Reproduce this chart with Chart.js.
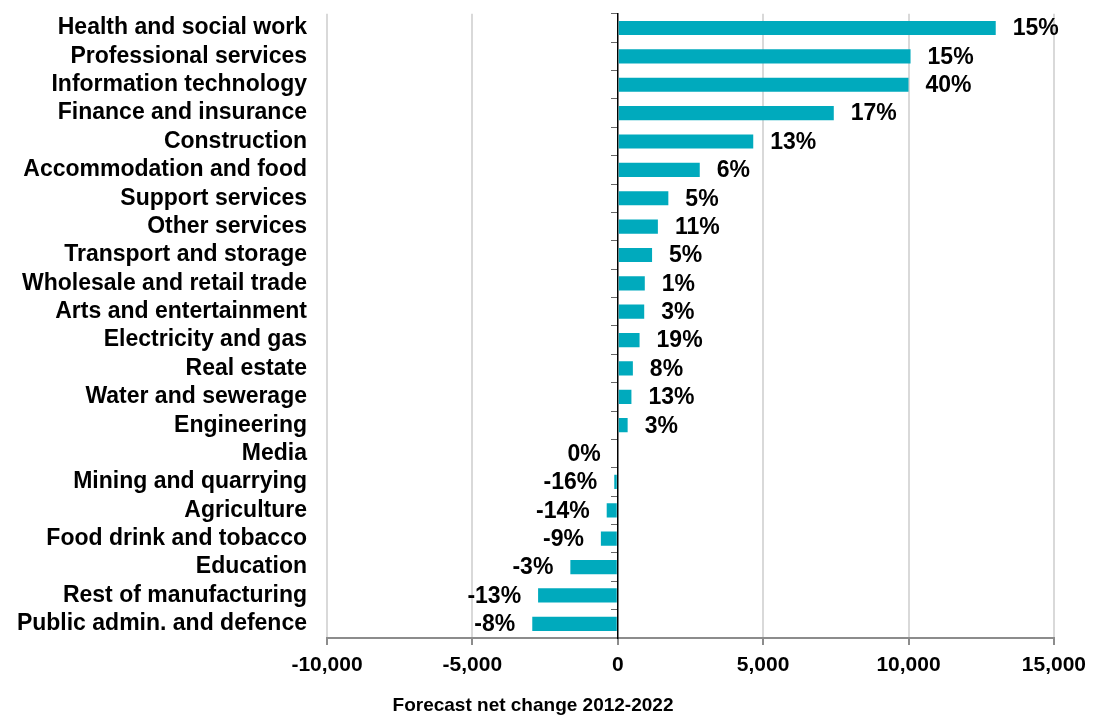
<!DOCTYPE html>
<html>
<head>
<meta charset="utf-8">
<title>Forecast net change 2012-2022</title>
<script src="https://cdn.jsdelivr.net/npm/chart.js@4/dist/chart.umd.min.js"></script>
<style>
  html, body { margin: 0; padding: 0; background: #fff; }
  #myChart { display: block; }
</style>
</head>
<body>
<canvas id="myChart" width="1094" height="722"></canvas>
<script>
  'use strict';

  // sectors, top to bottom
  var sectors = [
    'Health and social work', 'Professional services', 'Information technology',
    'Finance and insurance', 'Construction', 'Accommodation and food',
    'Support services', 'Other services', 'Transport and storage',
    'Wholesale and retail trade', 'Arts and entertainment', 'Electricity and gas',
    'Real estate', 'Water and sewerage', 'Engineering', 'Media',
    'Mining and quarrying', 'Agriculture', 'Food drink and tobacco', 'Education',
    'Rest of manufacturing', 'Public admin. and defence'
  ];

  // forecast net change in jobs, 2012-2022
  var netChange = [
    13000, 10070, 10000, 7430, 4660, 2820, 1740, 1380, 1180, 930, 910,
    750, 520, 470, 340, 0, -120, -380, -580, -1630, -2740, -2940
  ];

  // percentage change shown next to each bar
  var pctChange = [
    '15%', '15%', '40%', '17%', '13%', '6%', '5%', '11%', '5%', '1%', '3%',
    '19%', '8%', '13%', '3%', '0%', '-16%', '-14%', '-9%', '-3%', '-13%', '-8%'
  ];

  var xMin = -10000;
  var xMax = 15000;
  var xStep = 5000;

  var boldFont = '"Liberation Sans", Arial, Helvetica, sans-serif';

  /**
   * write the percentage beside each bar
   */
  var barLabels = {
    id: 'barLabels',
    afterDatasetsDraw: function (chart) {
      var ctx = chart.ctx;
      var meta = chart.getDatasetMeta(0);
      ctx.save();
      ctx.font = 'bold 23px ' + boldFont;
      ctx.fillStyle = '#000';
      ctx.textBaseline = 'middle';
      meta.data.forEach(function (bar, i) {
        if (netChange[i] > 0) {
          ctx.textAlign = 'left';
          ctx.fillText(pctChange[i], bar.x + 17, bar.y + 1);
        } else {
          ctx.textAlign = 'right';
          ctx.fillText(pctChange[i], bar.x - 17, bar.y + 1);
        }
      });
      ctx.restore();
    }
  };

  var ctx = document.getElementById('myChart').getContext('2d');

  var myChart = new Chart(ctx, {
    type: 'bar',
    data: {
      labels: sectors,
      datasets: [{
        data: netChange,
        backgroundColor: '#00aabd',
        borderWidth: 0,
        barPercentage: 0.5,
        categoryPercentage: 1
      }]
    },
    options: {
      indexAxis: 'y',
      responsive: false,
      animation: false,
      layout: {
        padding: { top: 13, right: 38, left: 10, bottom: 0 }
      },
      plugins: {
        legend: { display: false },
        tooltip: { enabled: false },
        title: {
          display: true,
          position: 'bottom',
          text: 'Forecast net change 2012-2022',
          color: '#000',
          font: { family: boldFont, size: 19, weight: 'bold' },
          padding: { top: 8, bottom: 5 }
        }
      },
      scales: {
        x: {
          type: 'linear',
          min: xMin,
          max: xMax,
          ticks: {
            stepSize: xStep,
            color: '#000',
            padding: 8,
            font: { family: boldFont, size: 21, weight: 'bold' }
          },
          grid: {
            color: function (c) {
              return c.tick && c.tick.value === 0 ? 'rgba(0,0,0,0)' : '#d9d9d9';
            },
            lineWidth: 2,
            tickColor: '#8c8c8c',
            tickLength: 7
          },
          border: { color: '#8c8c8c', width: 2 }
        },
        y: {
          type: 'category',
          position: 'left',
          grid: { display: false, drawTicks: true, tickLength: 20 },
          border: { display: false },
          ticks: {
            autoSkip: false,
            color: '#000',
            padding: 0,
            font: { family: boldFont, size: 23, weight: 'bold' }
          },
          afterFit: function (scale) {
            // plot area starts at x = 327
            scale.width = 317;
          }
        },
        y2: {
          type: 'category',
          axis: 'y',
          position: { x: 0 },
          offset: true,
          grid: {
            offset: true,
            drawOnChartArea: false,
            tickLength: 6,
            tickColor: '#666',
            lineWidth: 1
          },
          border: { color: '#000', width: 1.5 },
          ticks: { display: false }
        }
      }
    },
    plugins: [barLabels]
  });
</script>
</body>
</html>
